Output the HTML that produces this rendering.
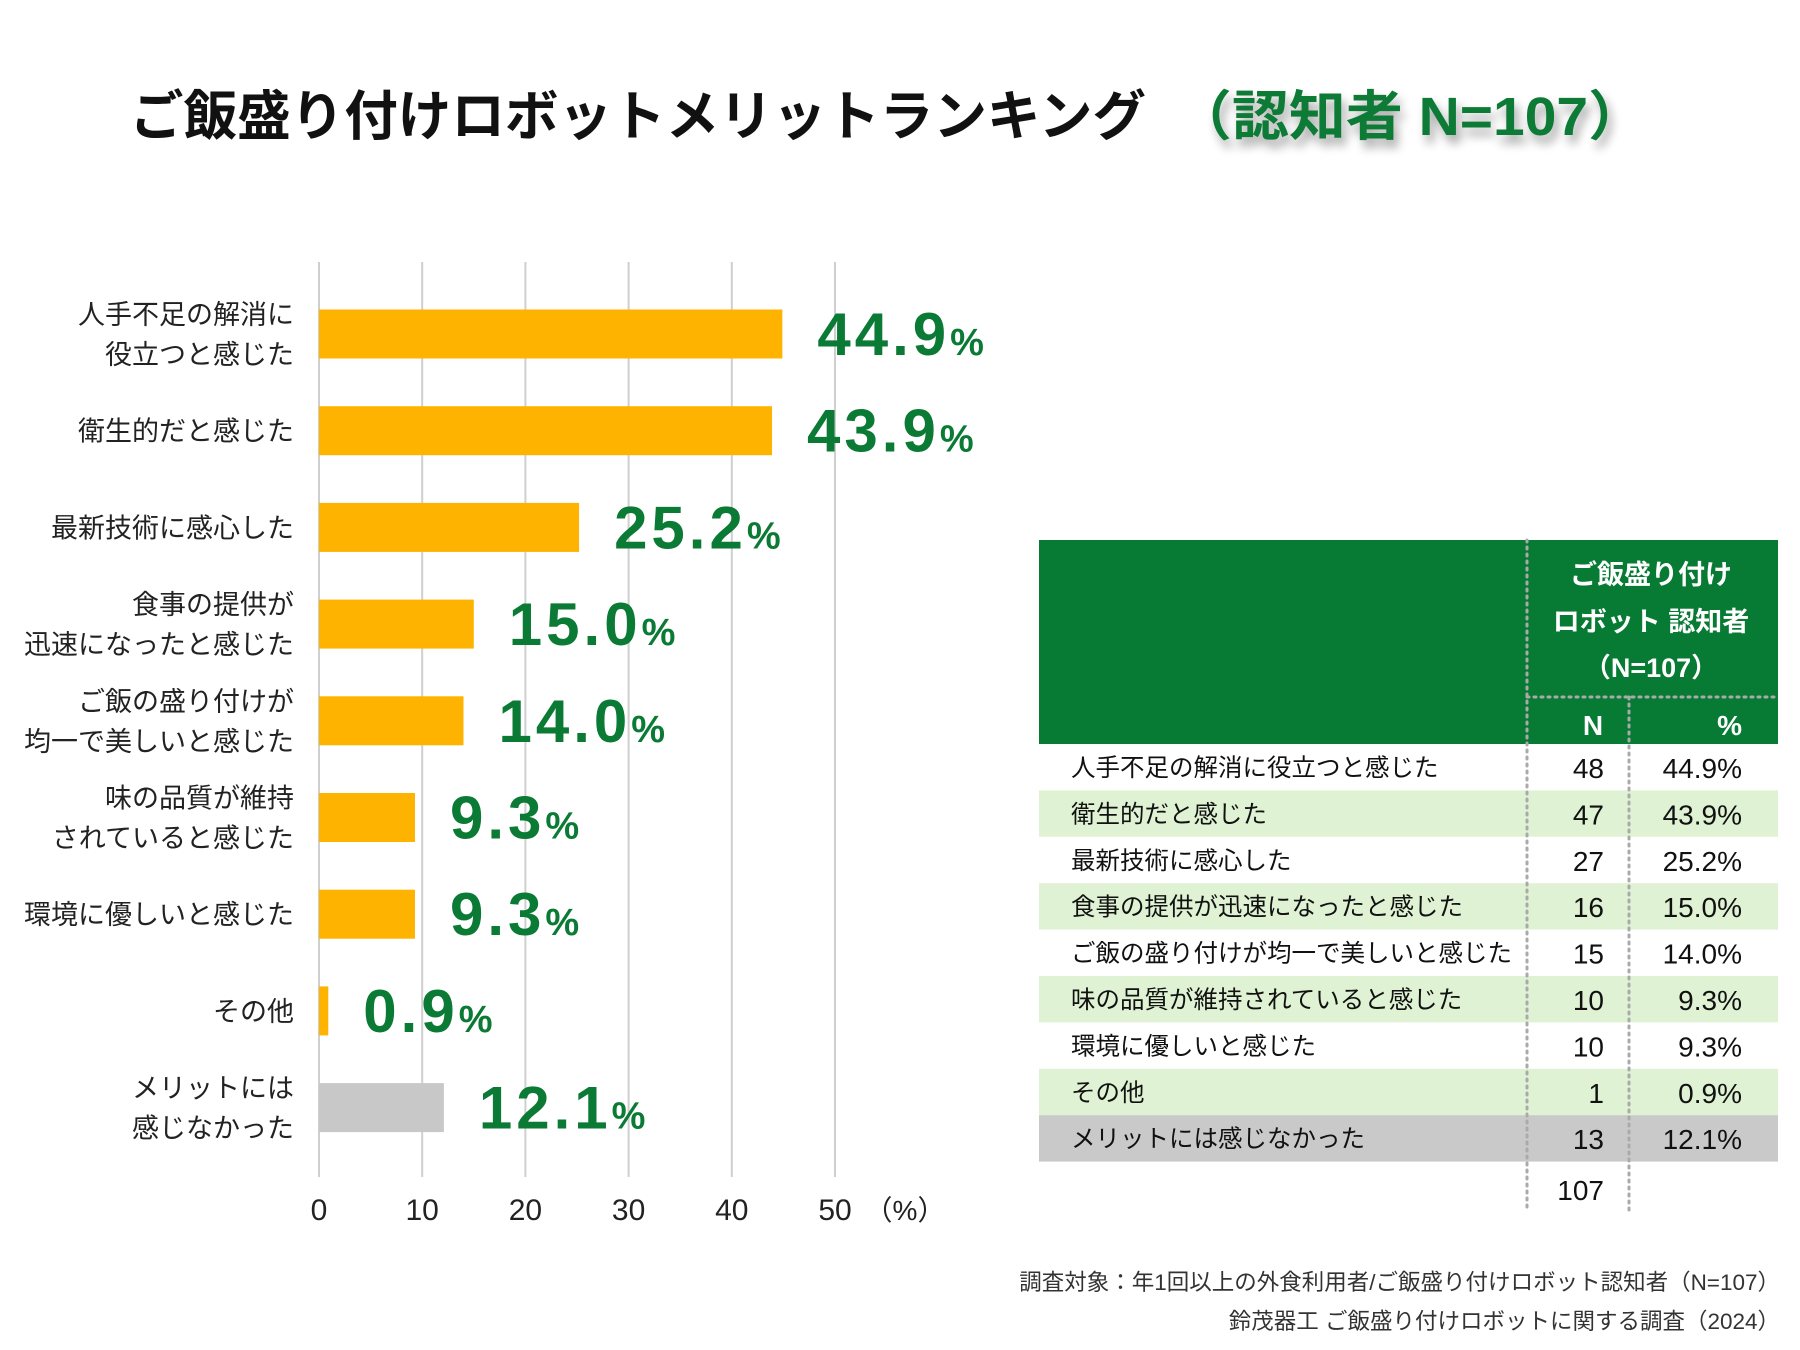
<!DOCTYPE html>
<html><head><meta charset="utf-8">
<style>
html,body{margin:0;padding:0;background:#fff;}
svg{display:block;font-family:"Liberation Sans","Noto Sans CJK JP",sans-serif;}
</style></head>
<body>
<svg id="s" width="1800" height="1350" viewBox="0 0 1800 1350" xmlns="http://www.w3.org/2000/svg">
<defs>
<filter id="sh" x="-10%" y="-30%" width="120%" height="180%"><feGaussianBlur in="SourceAlpha" stdDeviation="5"/><feOffset dx="4" dy="8"/><feComponentTransfer><feFuncA type="linear" slope="0.35"/></feComponentTransfer><feMerge><feMergeNode/><feMergeNode in="SourceGraphic"/></feMerge></filter>
</defs>
<text x="130" y="135" font-size="54" font-weight="bold" fill="#111" textLength="1016" lengthAdjust="spacingAndGlyphs">ご飯盛り付けロボットメリットランキング</text>
<text x="1175" y="135" font-size="54" font-weight="bold" fill="#0a7a35" textLength="470" lengthAdjust="spacingAndGlyphs" filter="url(#sh)">（認知者 N=107）</text>
<g id="grid"></g>
<g id="bars"></g>
<g id="table"></g>
<text x="1780" y="1290" font-size="22.5" fill="#333" text-anchor="end">調査対象：年1回以上の外食利用者/ご飯盛り付けロボット認知者（N=107）</text>
<text x="1780" y="1329" font-size="22.5" fill="#333" text-anchor="end">鈴茂器工 ご飯盛り付けロボットに関する調査（2024）</text>
</svg>
<script>
const categories = [["人手不足の解消に","役立つと感じた"],["衛生的だと感じた"],["最新技術に感心した"],["食事の提供が","迅速になったと感じた"],["ご飯の盛り付けが","均一で美しいと感じた"],["味の品質が維持","されていると感じた"],["環境に優しいと感じた"],["その他"],["メリットには","感じなかった"]];
const tableLabels = ["人手不足の解消に役立つと感じた","衛生的だと感じた","最新技術に感心した","食事の提供が迅速になったと感じた","ご飯の盛り付けが均一で美しいと感じた","味の品質が維持されていると感じた","環境に優しいと感じた","その他","メリットには感じなかった"];
const values = [44.9,43.9,25.2,15.0,14.0,9.3,9.3,0.9,12.1];
const counts = [48,47,27,16,15,10,10,1,13];
const total = 107;
const ticks = [0,10,20,30,40,50];

const NS="http://www.w3.org/2000/svg";
function mk(tag,attrs,parent,txt){const e=document.createElementNS(NS,tag);for(const k in attrs)e.setAttribute(k,attrs[k]);if(txt!==undefined)e.textContent=txt;parent.appendChild(e);return e;}
const x0=319, pxPer=10.32, yTop=262, yBot=1177, rowStart=334, rowStep=96.7, barH=49;
const xs=v=>x0+v*pxPer;
const yc=i=>rowStart+i*rowStep;
const grid=document.getElementById('grid'), bars=document.getElementById('bars'), table=document.getElementById('table');

ticks.forEach(t=>{
  const l=mk('line',{x1:xs(t),x2:xs(t),y1:yTop,y2:yBot,stroke:'#cfcfcf','stroke-width':2},grid);
  
  
  const tx=mk('text',{x:xs(t),y:1220,'font-size':30,fill:'#222','text-anchor':'middle'},grid,String(t));
  
  
});
const unit=mk('text',{x:xs(50)+70,y:1220,'font-size':28,fill:'#222','text-anchor':'middle'},grid,'（%）');



values.forEach((v,i)=>{
  const c=yc(i);
  const r=mk('rect',{x:x0,y:c-barH/2,width:v*pxPer,height:barH,fill:i===values.length-1?'#c8c8c8':'#fdb300'},bars);
  
  
  const lines=categories[i];
  lines.forEach((ln,j)=>{
    const yy=c+10+(j-(lines.length-1)/2)*40;
    const t=mk('text',{x:294,y:yy,'font-size':27,fill:'#222','text-anchor':'end'},bars,ln);
    
    
  });
  const vt=mk('text',{x:xs(v)+35,y:c+21,'font-size':60,'font-weight':'bold',fill:'#0a7a35','letter-spacing':4},bars);
  
  
  mk('tspan',{},vt,v.toFixed(1));
  mk('tspan',{'font-size':38,'letter-spacing':0},vt,'%');
});

// table
const tL=1039,tR=1778,hTop=540,hBot=744,rH=46.4,d1=1527,d2=1629;
const hdr=mk('rect',{x:tL,y:hTop,width:tR-tL,height:hBot-hTop,fill:'#077a33'},table);


[['ご飯盛り付け',584],['ロボット 認知者',631],['（N=107）',677]].forEach(([s,y],k)=>{
  const t=mk('text',{x:1651,y:y,'font-size':27,'font-weight':'bold',fill:'#fff','text-anchor':'middle'},table,s);
  
  
});
const hn=mk('text',{x:1593,y:735,'font-size':28,'font-weight':'bold',fill:'#fff','text-anchor':'middle'},table,'N');


const hp=mk('text',{x:1742,y:735,'font-size':28,'font-weight':'bold',fill:'#fff','text-anchor':'end'},table,'%');


tableLabels.forEach((lab,i)=>{
  const y=hBot+i*rH;
  const fill=i===tableLabels.length-1?'#c9c9c9':(i%2===1?'#dff2d3':'#fff');
  const bg=mk('rect',{x:tL,y:y,width:tR-tL,height:rH,fill:fill},table);
  
  
  const t=mk('text',{x:1071,y:y+32,'font-size':24.5,fill:'#111'},table,lab);
  
  
  const n=mk('text',{x:1604,y:y+34,'font-size':28,fill:'#111','text-anchor':'end'},table,String(counts[i]));
  
  
  const p=mk('text',{x:1742,y:y+34,'font-size':28,fill:'#111','text-anchor':'end'},table,values[i].toFixed(1)+'%');
  
  
});
const tot=mk('text',{x:1604,y:1200,'font-size':28,fill:'#111','text-anchor':'end'},table,String(total));


[d1,d2].forEach((x,k)=>{
  const l=mk('line',{x1:x,x2:x,y1:k===0?hTop:697,y2:1211,stroke:'#aaa','stroke-width':3,'stroke-dasharray':'2 5','stroke-linecap':'round'},table);
  
  
});
const hl=mk('line',{x1:d1,x2:tR,y1:697,y2:697,stroke:'#aaa','stroke-width':3,'stroke-dasharray':'2 5','stroke-linecap':'round'},table);


</script>
</body></html>
